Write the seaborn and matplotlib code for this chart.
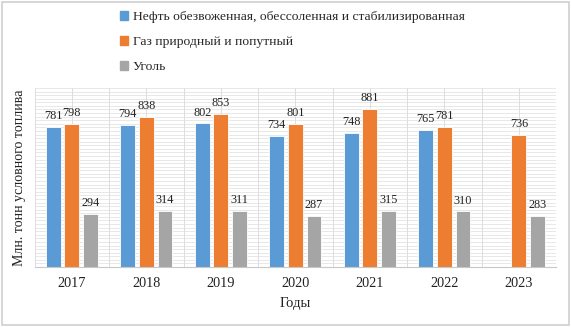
import matplotlib
matplotlib.use("Agg")
import matplotlib.pyplot as plt
import seaborn as sns
import numpy as np
import pandas as pd
from matplotlib.patches import Rectangle

years = ["2017", "2018", "2019", "2020", "2021", "2022", "2023"]
oil = [781, 794, 802, 734, 748, 765, np.nan]
gas = [798, 838, 853, 801, 881, 781, 736]
coal = [294, 314, 311, 287, 315, 310, 283]
series_names = ["Нефть обезвоженная, обессоленная и стабилизированная",
                "Газ природный и попутный",
                "Уголь"]
colors = ["#5B9BD5", "#ED7D31", "#A5A5A5"]
x_label = "Годы"
y_label = "Млн. тонн условного топлива"

rows = []
for name, vals in zip(series_names, [oil, gas, coal]):
    for y, v in zip(years, vals):
        rows.append({"year": y, "series": name, "value": v})
df = pd.DataFrame(rows)

sns.set_theme(style="white")
plt.rcParams["font.family"] = ["Liberation Serif", "DejaVu Serif"]

fig = plt.figure(figsize=(5.71, 3.27), dpi=100)
ax = fig.add_axes([0.0606, 0.1835, 0.9134, 0.5475])

sns.barplot(data=df, x="year", y="value", hue="series", order=years,
            hue_order=series_names, palette=colors, width=0.75, gap=0.2,
            saturation=1, edgecolor="white", linewidth=0.6, legend=False, ax=ax)

ax.set_ylim(0, 1000)
ax.set_xlim(-0.5, len(years) - 0.5)
# dense grid
for yv in np.arange(20, 1001, 20):
    ax.axhline(yv, color="#E4E4E4", lw=0.6, zorder=0)
for xv in np.arange(-0.5, len(years), 0.5):
    ax.axvline(xv, color="#DDDDDD", lw=0.7, zorder=0)
ax.set_axisbelow(True)

for c in ax.containers:
    for bar in c:
        h = bar.get_height()
        if np.isnan(h) or h == 0:
            continue
        ax.annotate(f"{int(h)}", (bar.get_x() + bar.get_width() / 2, h),
                    xytext=(0, 3.5), textcoords="offset points",
                    ha="center", va="bottom", fontsize=8.8, color="#222222")

for s in ["top", "right", "left"]:
    ax.spines[s].set_visible(False)
ax.spines["bottom"].set_color("#C8C8C8")
ax.spines["bottom"].set_linewidth(0.8)
ax.set_yticks([])
ax.tick_params(axis="x", length=0, labelsize=10.3, pad=7, colors="#222222")
ax.set_xlabel(x_label, fontsize=10.5, labelpad=5, color="#222222")
ax.set_ylabel(y_label, fontsize=10, labelpad=6, color="#222222")

handles = [Rectangle((0, 0), 1, 1, color=c) for c in colors]
fig.legend(handles, series_names, loc="upper left", bbox_to_anchor=(0.19, 1.0),
           frameon=False, fontsize=9.7, handlelength=0.6, handleheight=0.6,
           handletextpad=0.35, labelspacing=0.95, ncol=1, borderaxespad=0.45)

fig.add_artist(Rectangle((0.004, 0.006), 0.992, 0.988, transform=fig.transFigure,
                         fill=False, edgecolor="#D0D0D0", lw=1.2))

fig.savefig("out.png", dpi=100)
